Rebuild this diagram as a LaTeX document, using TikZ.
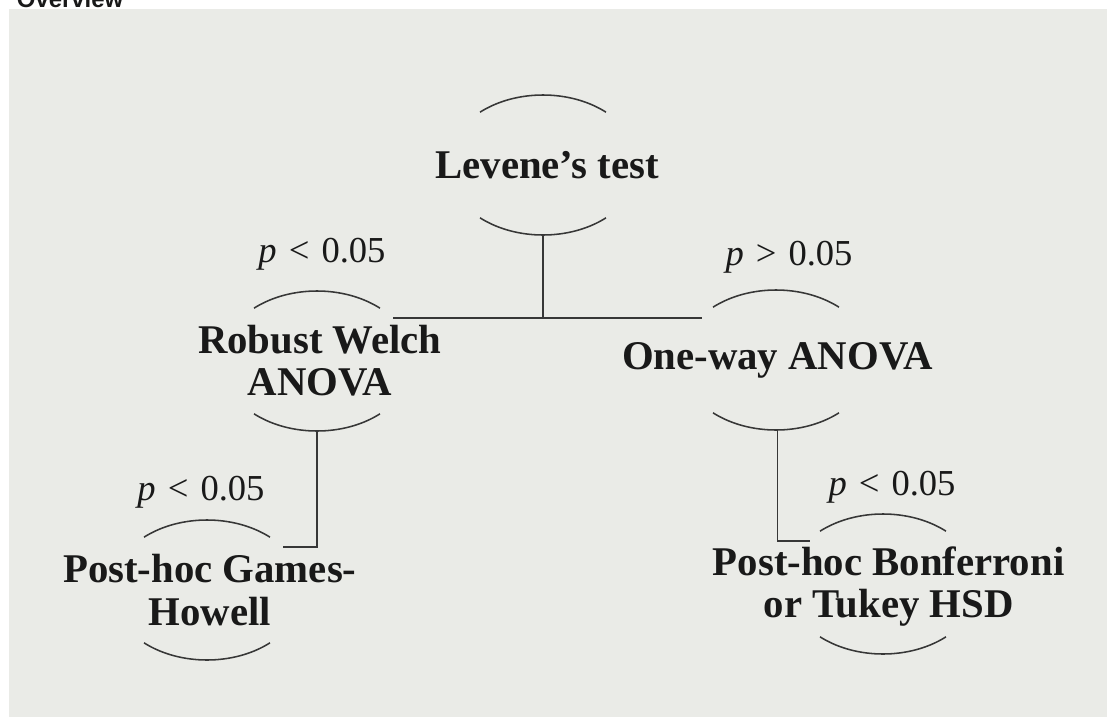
\documentclass[tikz,border=0pt]{standalone}
\usepackage{fontspec}
\setmainfont{Liberation Serif}
\newfontfamily\headfont{Liberation Sans}
\definecolor{panelgray}{RGB}{234, 235, 231}
\definecolor{inkgray}{RGB}{55, 55, 55}
\definecolor{textblack}{RGB}{25, 25, 25}
\usetikzlibrary{shapes.geometric, positioning, calc}
\tikzset{
  oval/.style={ellipse, draw=none, inner sep=0pt, minimum width=4.8cm, minimum height=3.5cm},
  testlabel/.style={align=center, text=textblack, font=\fontsize{29}{30}\selectfont\bfseries},
  plabel/.style={anchor=base, text=textblack, font=\fontsize{26}{30}\selectfont},
  arcline/.style={draw=inkgray, line width=1.1pt},
  link/.style={draw=inkgray, line width=1.2pt},
}

\begin{document}
\begin{tikzpicture}[x=0.025cm, y=0.025cm]

\useasboundingbox (0,0) rectangle (1107,-717);
\fill[panelgray] (9,-9) rectangle (1107,-717);
\node[anchor=base west, text=textblack, font=\headfont\bfseries\fontsize{17}{20}\selectfont] (overview) at (12,-7) {Overview};

% Ovals (only the top and bottom arcs are drawn)
\node[oval] (levene) at (543,-165) {};
\node[oval] (welch) at (317,-361) {};
\node[oval] (anova) at (776,-360) {};
\node[oval] (games) at (207,-590) {};
\node[oval] (bonf) at (883,-584) {};

\foreach \n in {levene, welch, anova, games, bonf} {
  \draw[arcline] ([shift={(49:96 and 70)}]\n.center) arc[start angle=49, end angle=131, x radius=96, y radius=70];
  \draw[arcline] ([shift={(229:96 and 70)}]\n.center) arc[start angle=229, end angle=311, x radius=96, y radius=70];
}

% Test names
\node[testlabel] (levenetxt) at ([xshift=3]levene.center) {Levene's test};
\node[testlabel] (welchtxt) at ([xshift=2]welch.center) {Robust Welch\\ANOVA};
\node[testlabel] (anovatxt) at ([xshift=1]anova.center) {One-way ANOVA};
\node[testlabel] (gamestxt) at ([xshift=2]games.center) {Post-hoc Games-\\Howell};
\node[testlabel] (bonftxt) at ([xshift=4,yshift=-2]bonf.center) {Post-hoc Bonferroni\\or Tukey HSD};

% p-value labels
\node[plabel] (pwelch) at (322,-262) {\textit{p}\hspace{0.33em}<\hspace{0.33em}0.05};
\node[plabel] (panova) at (789,-265) {\textit{p}\hspace{0.33em}>\hspace{0.33em}0.05};
\node[plabel] (pgames) at (201,-500) {\textit{p}\hspace{0.33em}<\hspace{0.33em}0.05};
\node[plabel] (pbonf) at (892,-495) {\textit{p}\hspace{0.33em}<\hspace{0.33em}0.05};

% Connectors
\coordinate (forkL) at (393,-318);
\coordinate (forkR) at (702,-318);
\coordinate (gamesend) at (283,-547);
\coordinate (bonfend) at (810,-541);

\draw[link] (levene.south) -- (levene.south |- forkL);
\draw[link] (forkL) -- (forkR);
\draw[link] (welch.south) |- (gamesend);
\draw[link] ([xshift=1]anova.south) |- (bonfend);

\end{tikzpicture}
\end{document}
